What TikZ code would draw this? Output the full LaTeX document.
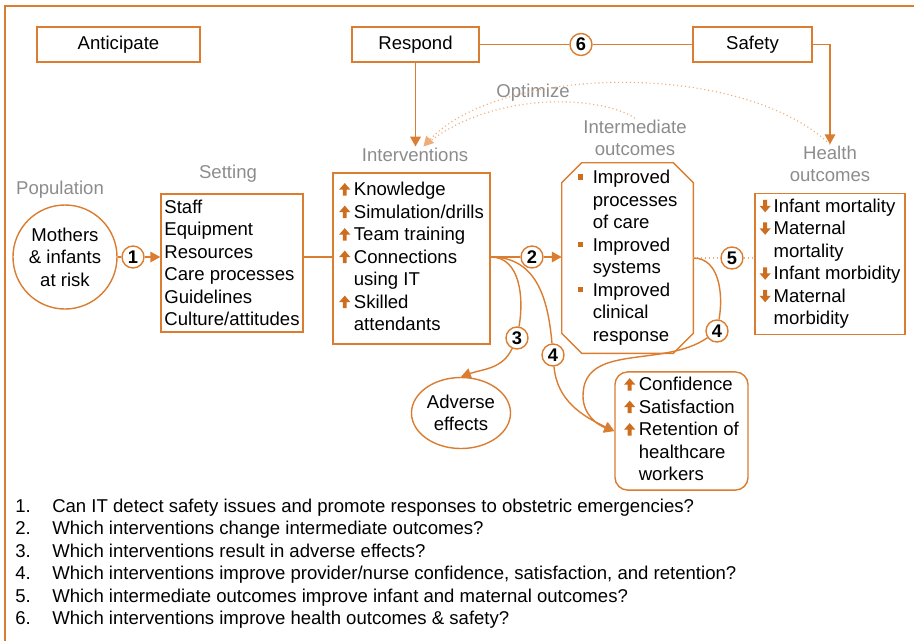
\documentclass[tikz,border=0pt]{standalone}
\usepackage{fontspec}
\setmainfont{Liberation Sans}
\usetikzlibrary{arrows.meta,shapes.geometric}

\definecolor{accent}{RGB}{218,125,48}
\definecolor{accentdark}{RGB}{205,110,30}
\definecolor{optimcolor}{RGB}{240,172,120}
\definecolor{labelgray}{RGB}{140,140,140}

% small marks used inside the boxes
\newcommand{\upmark}{\tikz[baseline=0pt,x=1pt,y=1pt,sharp corners]\fill[accentdark] (2.6,0) -- (2.6,4.2) -- (0,4.2) -- (4,8.8) -- (8,4.2) -- (5.4,4.2) -- (5.4,0) -- cycle;}
\newcommand{\downmark}{\tikz[baseline=0pt,x=1pt,y=1pt,sharp corners]\fill[accentdark] (2.6,8.8) -- (2.6,4.6) -- (0,4.6) -- (4,0) -- (8,4.6) -- (5.4,4.6) -- (5.4,8.8) -- cycle;}
\newcommand{\sqmark}{\tikz[baseline=0pt,x=1pt,y=1pt,sharp corners]\fill[accentdark] (0,2.8) rectangle (3.8,6.6);}

\tikzset{
  box/.style={draw=accent,line width=1pt,fill=white,inner sep=2pt},
  grouplabel/.style={text=labelgray,align=center,inner sep=1pt},
  num/.style={circle,draw=accent,line width=1pt,fill=white,inner sep=0pt,minimum size=0.55cm,font=\bfseries\fontsize{13}{13}\selectfont},
  link/.style={draw=accent,line width=1pt},
  arr/.style={link,-{Triangle[length=7pt,width=7.5pt]},color=accent},
  optim/.style={draw=optimcolor,line width=0.8pt,dotted}
}

\begin{document}
\begin{tikzpicture}[x=0.025cm,y=-0.025cm,font=\fontsize{13.2}{16}\selectfont]
  \useasboundingbox (0,0) rectangle (914,641);
  % frame
  \draw[link] (5,641) -- (5,6) -- (914,6);

  % top row
  \node[box,minimum width=4.075cm,minimum height=0.875cm] (anticipate) at (118.5,44.5) {Anticipate};
  \node[box,minimum width=3.175cm,minimum height=0.875cm] (respond) at (415.5,44.5) {Respond};
  \node[box,minimum width=2.975cm,minimum height=0.875cm] (safety) at (752.5,44.5) {Safety};
  \node[num] (n6) at (581,44.5) {6};

  % group labels
  \node[grouplabel] (poplabel) at (60,190) {Population};
  \node[grouplabel] (setlabel) at (228,174) {Setting};
  \node[grouplabel] (intlabel) at (415,155) {Interventions};
  \node[grouplabel] (imlabel) at (635,138) {Intermediate\\outcomes};
  \node[grouplabel] (hlabel) at (830,164) {Health\\outcomes};
  \node[grouplabel] (optlabel) at (533,93) {Optimize};

  % main chain
  \node[circle,draw=accent,line width=1pt,minimum size=2.6cm,inner sep=0pt,align=center] (mothers) at (65,257) {Mothers\\\& infants\\at risk};
  \node[box,minimum width=3.55cm,minimum height=3.45cm,align=left] (setting) at (232,263)
    {Staff\\Equipment\\Resources\\Care processes\\Guidelines\\Culture/attitudes};
  \node[box,minimum width=3.925cm,minimum height=4.275cm] (interv) at (411.5,258.5)
    {\begin{tabular}{@{}l@{\hspace{2.5pt}}l@{}}
      \upmark & Knowledge\\
      \upmark & Simulation/drills\\
      \upmark & Team training\\
      \upmark & Connections\\
              & using IT\\
      \upmark & Skilled\\
              & attendants
    \end{tabular}};
  \node[minimum width=3.275cm,minimum height=4.75cm,inner sep=0pt] (inter) at (627.5,258)
    {\begin{tabular}{@{}l@{\hspace{7pt}}l@{}}
      \sqmark & Improved\\
              & processes\\
              & of care\\
      \sqmark & Improved\\
              & systems\\
      \sqmark & Improved\\
              & clinical\\
              & response
    \end{tabular}};
  \draw[link] ([xshift=0.5cm]inter.north west) -- ([xshift=-0.5cm]inter.north east)
    -- ([yshift=-0.5cm]inter.north east) -- ([yshift=0.5cm]inter.south east)
    -- ([xshift=-0.5cm]inter.south east) -- ([xshift=0.5cm]inter.south west)
    -- ([yshift=0.5cm]inter.south west) -- ([yshift=-0.5cm]inter.north west) -- cycle;
  \node[box,minimum width=3.75cm,minimum height=3.5cm] (health) at (830,264)
    {\begin{tabular}{@{}l@{\hspace{2pt}}l@{}}
      \downmark & Infant mortality\\
      \downmark & Maternal\\
                & mortality\\
      \downmark & Infant morbidity\\
      \downmark & Maternal\\
                & morbidity
    \end{tabular}};
  \node[ellipse,draw=accent,line width=1pt,minimum width=2.475cm,minimum height=1.775cm,inner sep=0pt,align=center] (adverse) at (461,413) {Adverse\\effects};
  \node[box,rounded corners=9pt,minimum width=3.325cm,minimum height=2.9cm] (conf) at (681.5,431)
    {\begin{tabular}{@{}l@{\hspace{2.5pt}}l@{}}
      \upmark & Confidence\\
      \upmark & Satisfaction\\
      \upmark & Retention of\\
              & healthcare\\
              & workers
    \end{tabular}};

  % numbered questions on the links
  \node[num] (n1) at (133,257) {1};
  \node[num] (n2) at (532,257) {2};
  \node[num] (n3) at (517,338) {3};
  \node[num] (n4a) at (553,355) {4};
  \node[num] (n4b) at (717,331) {4};
  \node[num] (n5) at (732,258) {5};
  \coordinate (intout) at (interv.east |- n2);
  \coordinate (imout) at (inter.east |- n5);
  \coordinate (bend4) at (583,396);

  % connectors
  \draw[link] (respond) -- (n6) -- (safety);
  \draw[arr] (respond.south) -- (respond.south |- intlabel.north);
  \draw[arr] (safety.east) -| (hlabel.north);
  \draw[link] (mothers) -- (n1);
  \draw[arr] (n1) -- (n1 -| setting.west);
  \draw[link] (setting.east |- n1) -- (interv.west |- n1);
  \draw[link] (intout) -- (n2);
  \draw[arr] (n2) -- (inter.west |- n2);
  \draw[optim] (imout) -- (n5) -- (health.west |- n5);
  \draw[link] (intout) to[out=0,in=80] (n3);
  \draw[arr] (n3) to[out=-115,in=20] (adverse.north);
  \draw[link] (intout) to[out=0,in=95,looseness=1.1] (n4a);
  \draw[arr] (n4a) to[out=-85,in=155] (conf.west);
  \draw[link] (imout) to[out=0,in=80] (n4b);
  \draw[arr] (n4b) to[out=-145,in=90] (bend4) to[out=-90,in=160] (conf.west);

  % optimize loop
  \draw[optim] (imlabel.north) .. controls (600,95) and (490,90) .. ([xshift=6pt]intlabel.north);
  \draw[optim,-{Triangle[length=7pt,width=7.5pt]},color=optimcolor] (hlabel.north) .. controls (740,60) and (500,65) .. ([xshift=6pt]intlabel.north);

  % research questions
  \node[anchor=base west,inner sep=0pt] (questions) at (15,512)
    {\begin{tabular}[t]{@{}p{26.3pt}@{}l@{}}
      1. & Can IT detect safety issues and promote responses to obstetric emergencies?\\
      2. & Which interventions change intermediate outcomes?\\
      3. & Which interventions result in adverse effects?\\
      4. & Which interventions improve provider/nurse confidence, satisfaction, and retention?\\
      5. & Which intermediate outcomes improve infant and maternal outcomes?\\
      6. & Which interventions improve health outcomes \& safety?
    \end{tabular}};
\end{tikzpicture}
\end{document}
